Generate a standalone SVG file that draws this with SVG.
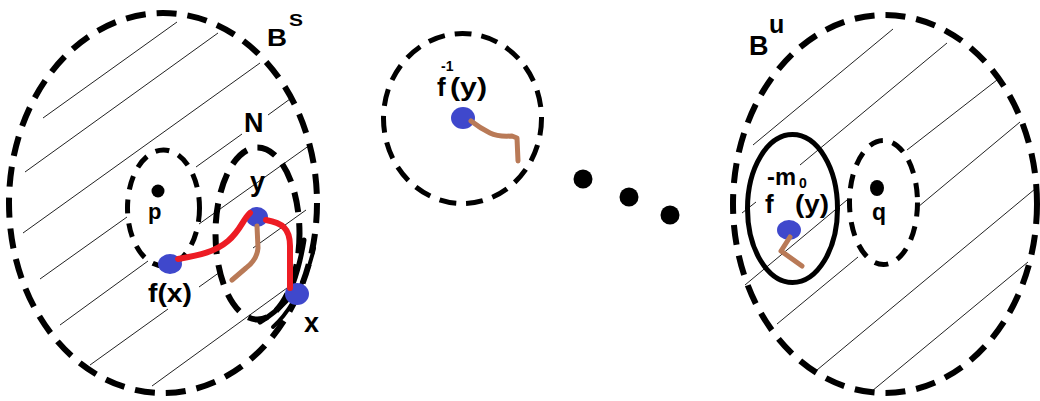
<svg xmlns="http://www.w3.org/2000/svg" width="1040" height="401" viewBox="0 0 1040 401">
<style>
.big{fill:none;stroke:#000;stroke-width:6;stroke-dasharray:20 11}
.mid{fill:none;stroke:#000;stroke-width:5;stroke-dasharray:17 10}
.sm{fill:none;stroke:#000;stroke-width:5;stroke-dasharray:14 10}
.solid{fill:none;stroke:#000;stroke-width:5}
.hatch{stroke:#222;stroke-width:1;fill:none}
.blue{fill:#3f48cc}
.red{fill:none;stroke:#ed1c24;stroke-width:6;stroke-linecap:round;stroke-linejoin:round}
.brown{fill:none;stroke:#b97a57;stroke-width:5;stroke-linecap:round;stroke-linejoin:round}
.ink{fill:none;stroke:#000;stroke-linecap:round}
text{font-family:"Liberation Sans",Arial,sans-serif;font-weight:bold;fill:#000}
</style>
<rect width="1040" height="401" fill="#fff"/>

<!-- left region B^s -->
<g id="region-Bs">
  <g class="hatch">
    <path d="M43,118 L177,22"/>
    <path d="M25,172 L218,33"/>
    <path d="M23,233 L260,63"/>
    <path d="M40,279 L127,217 M196,167 L242,134 M268,115 L290,99"/>
    <path d="M60,325 L148,261 M199,224 L310,145"/>
    <path d="M90,365 L168,309 M199,287 L220,272 M253,248 L306,210"/>
    <path d="M152,386 L287,288"/>
  </g>
  <ellipse class="big" cx="163" cy="203" rx="154" ry="190"/>
  <text x="267" y="46" font-size="23" textLength="20" lengthAdjust="spacingAndGlyphs">B</text>
  <text x="289" y="26" font-size="17" textLength="14" lengthAdjust="spacingAndGlyphs">S</text>
</g>

<g id="node-p">
  <ellipse cx="163.5" cy="208" rx="36" ry="58" fill="#fff" stroke="none"/>
  <ellipse class="sm" cx="163.5" cy="208" rx="36" ry="58"/>
  <circle cx="158" cy="191" r="6.5" fill="#000"/>
  <text x="148" y="219" font-size="22">p</text>
</g>

<g id="node-N">
  <ellipse class="big" cx="257.5" cy="233.5" rx="42" ry="86" stroke-width="5"/>
  <text x="244" y="132" font-size="27">N</text>
</g>

<g id="node-y">
  <ellipse class="blue" cx="257" cy="217" rx="11" ry="10"/>
  <text x="250" y="191" font-size="27">y</text>
</g>
<g id="node-fx">
  <ellipse class="blue" cx="170" cy="264" rx="12" ry="10"/>
  <text x="148" y="302" font-size="25" textLength="44" lengthAdjust="spacingAndGlyphs">f(x)</text>
</g>
<g id="node-x">
  <path class="ink" stroke-width="5" d="M304,240 Q300,265 293,284"/>
  <path class="ink" stroke-width="4" d="M314,248 Q309,270 300,287"/>
  <path class="ink" stroke-width="5" d="M287,300 Q275,313 260,322"/>
  <path class="ink" stroke-width="4" d="M293,302 Q284,317 273,327"/>
  <ellipse class="blue" cx="297" cy="294" rx="12" ry="11"/>
  <text x="304" y="332" font-size="27">x</text>
</g>

<!-- middle -->
<g id="node-finv">
  <ellipse class="mid" cx="462.5" cy="118.5" rx="79" ry="85"/>
  <text x="437" y="96" font-size="26">f</text>
  <text x="441" y="71" font-size="14">-1</text>
  <text x="450" y="96" font-size="26" textLength="37" lengthAdjust="spacingAndGlyphs">(y)</text>
  <ellipse class="blue" cx="463" cy="118" rx="12" ry="11"/>
</g>

<g id="node-dots">
  <circle cx="583" cy="179" r="9.5" fill="#000"/>
  <circle cx="629" cy="197" r="9.5" fill="#000"/>
  <circle cx="670" cy="215" r="9.5" fill="#000"/>
</g>

<!-- right region B^u -->
<g id="region-Bu">
  <g class="hatch">
    <path d="M753,145 L893,29"/>
    <path d="M742,213 L756,202 M800,165 L947,43"/>
    <path d="M745,285 L847,200 M907,150 L997,80"/>
    <path d="M777,324 L858,257 M918,207 L1020,122"/>
    <path d="M817,370 L1035,189"/>
    <path d="M872,391 L1028,262"/>
  </g>
  <ellipse class="big" cx="885" cy="204" rx="152" ry="189"/>
  <text x="749" y="55" font-size="27">B</text>
  <text x="769" y="33" font-size="25">u</text>
</g>

<g id="node-q">
  <ellipse cx="883.5" cy="202.5" rx="34" ry="62" fill="#fff" stroke="none"/>
  <ellipse class="sm" cx="883.5" cy="202.5" rx="34" ry="62"/>
  <ellipse cx="877" cy="188" rx="7" ry="8" fill="#000"/>
  <text x="872" y="220" font-size="23">q</text>
</g>

<g id="node-fm0">
  <ellipse class="solid" cx="792.5" cy="208.5" rx="45" ry="74"/>
  <text x="767" y="185" font-size="23" textLength="29" lengthAdjust="spacingAndGlyphs">-m</text>
  <text x="799" y="188" font-size="14">0</text>
  <text x="765" y="213" font-size="26">f</text>
  <text x="795" y="213" font-size="25" textLength="34" lengthAdjust="spacingAndGlyphs">(y)</text>
  <ellipse class="blue" cx="789" cy="230" rx="12" ry="10"/>
</g>

<!-- connectors / curves -->
<g id="connectors">
  <path class="red" d="M178,259 C200,255 215,252 228,241 S243,219 250,213"/>
  <path class="red" d="M266,220 C282,223 290,228 290,246 L290,288"/>
  <path class="brown" d="M257,226 L258,248 Q257,260 246,268 L232,280"/>
  <path class="brown" d="M471,121 Q480,128 490,133 Q498,137 512,136 L517,138 L518,161"/>
  <path class="brown" d="M790,237 L781,251 L802,266"/>
</g>
</svg>
